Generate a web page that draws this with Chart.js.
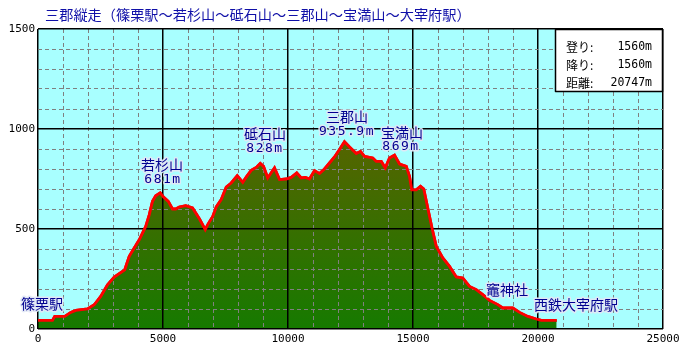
<!DOCTYPE html>
<html><head><meta charset="utf-8">
<script src="https://cdn.jsdelivr.net/npm/chart.js@4/dist/chart.umd.min.js"></script>
<style>html,body{margin:0;padding:0;background:#fff;}#wrap{width:687px;height:352px;}</style>
</head><body><div id="wrap"><canvas id="c" width="687" height="352"></canvas></div>
<script>
const titleText = '三郡縦走（篠栗駅～若杉山～砥石山～三郡山～宝満山～大宰府駅）';
const distances = [0,580,670,1070,1310,1510,1980,2250,2510,2780,3050,3470,3650,3850,4050,4310,4450,4580,4710,4890,5020,5210,5380,5510,5650,5910,6180,6460,6690,6790,6990,7130,7330,7530,7730,7970,8190,8350,8530,8730,8890,9020,9190,9460,9660,9930,10130,10350,10530,10700,10860,11060,11260,11460,11660,11860,12060,12260,12460,12730,12900,13060,13390,13530,13730,13890,14060,14260,14460,14730,14860,14950,15130,15300,15430,15590,15750,15930,16190,16460,16730,16990,17260,17530,17790,18060,18390,18590,18990,19260,19590,19930,20130,20747];
const elevations = [43,43,63,63,83,93,100,121,163,221,260,296,363,405,446,513,571,638,666,681,660,638,600,600,610,617,605,550,497,522,563,610,647,710,730,767,733,763,793,808,828,813,755,805,747,750,758,780,755,758,750,792,777,800,830,860,897,936,910,877,888,863,855,838,838,805,855,869,825,813,763,696,696,713,700,605,510,413,355,313,260,255,213,197,172,143,122,105,105,83,63,50,43,43];
const xTickLabels = ['0','5000','10000','15000','20000','25000'];
const yTickLabels = ['0','500','1000','1500'];
const placeNames = ['篠栗駅','若杉山','砥石山','三郡山','宝満山','竈神社','西鉄大宰府駅'];
const placeHeights = ['','681m','828m','935.9m','869m','',''];
const summaryLabels = ['登り:','降り:','距離:'];
const summaryValues = ['1560m','1560m','20747m'];

const points = distances.map((d,i)=>({x:d,y:elevations[i]}));

const bgPlugin = {
  id:'bg',
  beforeDraw(chart){
    const {ctx, chartArea:a} = chart;
    ctx.save();
    ctx.fillStyle = '#a8ffff';
    ctx.fillRect(a.left, a.top, a.right-a.left, a.bottom-a.top);
    ctx.restore();
  }
};

function haloText(ctx, txt, x, y){
  ctx.lineJoin = 'round';
  ctx.strokeStyle = 'rgba(225,232,245,0.95)';
  ctx.lineWidth = 3;
  ctx.strokeText(txt, x, y);
  ctx.fillStyle = '#000090';
  ctx.fillText(txt, x, y);
}

const overlayPlugin = {
  id:'overlay',
  afterDraw(chart){
    const {ctx, chartArea:a} = chart;
    // redraw the red profile line above the grid
    ctx.save();
    ctx.beginPath();
    ctx.rect(a.left-2, a.top, a.right-a.left+4, a.bottom-a.top);
    ctx.clip();
    chart.getDatasetMeta(1).controller.draw();
    ctx.restore();

    ctx.save();
    // title
    ctx.font = '14.2px "Noto Sans CJK JP"';
    ctx.textAlign = 'left';
    ctx.textBaseline = 'middle';
    ctx.fillStyle = '#1010a8';
    ctx.fillText(titleText, 45, 15);

    // place annotations
    const nameFont = '14px "Noto Sans CJK JP"';
    const numFont = '13px "DejaVu Sans Mono"';
    const labelPos = [[42,304],[162,165],[265,134],[347,117],[402,133],[507,290],[576,305]];
    const numPos = [null,[163,180],[265,149],[347,132],[401,147],null,null];
    ctx.textAlign = 'center';
    for(let i=0;i<placeNames.length;i++){
      ctx.font = nameFont;
      ctx.letterSpacing = '0px';
      haloText(ctx, placeNames[i], labelPos[i][0], labelPos[i][1]);
      if(placeHeights[i]){
        ctx.font = numFont;
        ctx.letterSpacing = '1.5px';
        haloText(ctx, placeHeights[i], numPos[i][0], numPos[i][1]);
      }
    }
    ctx.letterSpacing = '0px';

    // summary box
    const bx = 555, by = a.top, bw = a.right - 555, bh = 63;
    ctx.fillStyle = '#ffffff';
    ctx.fillRect(bx, by, bw, bh);
    ctx.strokeStyle = '#000';
    ctx.lineWidth = 1.5;
    ctx.strokeRect(bx+0.5, by+0.5, bw-1, bh-1);
    ctx.fillStyle = '#000';
    for(let i=0;i<3;i++){
      const y = 47 + i*18;
      ctx.textAlign = 'left';
      ctx.font = '12px "Noto Sans CJK JP"';
      ctx.fillText(summaryLabels[i], 566, y);
      ctx.textAlign = 'right';
      ctx.font = '11.5px "DejaVu Sans Mono"';
      ctx.fillText(summaryValues[i], 652, y);
    }
    ctx.restore();
  }
};

const isMajor = (v, step) => Math.abs(v % step) < 1e-6;

new Chart(document.getElementById('c'), {
  type:'line',
  data:{
    datasets:[
      {
        data: points,
        parsing:false,
        borderWidth:0,
        pointRadius:0,
        tension:0,
        fill:'origin',
        backgroundColor:(c)=>{
          const ch = c.chart; const a = ch.chartArea;
          if(!a) return '#2a7000';
          const ys = ch.scales.y;
          const g = ch.ctx.createLinearGradient(0, ys.getPixelForValue(950), 0, ys.getPixelForValue(0));
          g.addColorStop(0, 'rgb(86,100,0)');
          g.addColorStop(1, 'rgb(22,122,0)');
          return g;
        }
      },
      {
        data: points,
        parsing:false,
        borderColor:'#ff0000',
        borderWidth:2.8,
        pointRadius:0,
        tension:0,
        fill:false
      }
    ]
  },
  options:{
    responsive:false,
    animation:false,
    devicePixelRatio:1,
    layout:{padding:{left:0, top:29, right:24, bottom:0}},
    plugins:{legend:{display:false}, title:{display:false}, tooltip:{enabled:false}},
    scales:{
      x:{
        type:'linear', min:0, max:25000,
        afterFit(s){ s.height = 23; },
        ticks:{
          stepSize:1000, autoSkip:false, maxRotation:0, maxTicksLimit:1000,
          padding:4, color:'#000',
          font:{family:'"DejaVu Sans Mono"', size:11},
          callback:(v)=> isMajor(v,5000) ? xTickLabels[v/5000] : ''
        },
        grid:{
          z:1, drawTicks:false,
          color:(c)=> (c.tick && isMajor(c.tick.value,5000)) ? '#000000' : '#808080',
          lineWidth:(c)=> (c.tick && isMajor(c.tick.value,5000)) ? 1.5 : 1
        },
        border:{
          display:false,
          dash:(c)=> (c.tick && !isMajor(c.tick.value,5000)) ? [4,3] : []
        }
      },
      y:{
        type:'linear', min:0, max:1500,
        afterFit(s){ s.width = 38; },
        ticks:{
          stepSize:100, autoSkip:false, maxTicksLimit:1000,
          padding:3, color:'#000',
          font:{family:'"DejaVu Sans Mono"', size:11},
          callback:(v)=> isMajor(v,500) ? yTickLabels[v/500] : ''
        },
        grid:{
          z:1, drawTicks:false,
          color:(c)=> (c.tick && isMajor(c.tick.value,500)) ? '#000000' : '#808080',
          lineWidth:(c)=> (c.tick && isMajor(c.tick.value,500)) ? 1.5 : 1
        },
        border:{
          display:false,
          dash:(c)=> (c.tick && !isMajor(c.tick.value,500)) ? [4,3] : []
        }
      }
    }
  },
  plugins:[bgPlugin, overlayPlugin]
});
</script>
</body></html>
